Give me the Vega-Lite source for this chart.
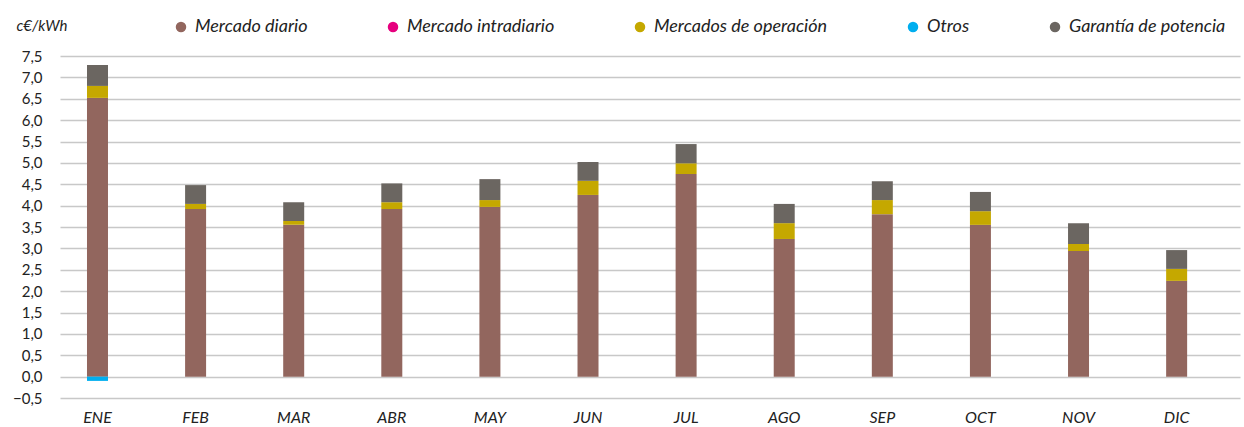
{
  "$schema": "https://vega.github.io/schema/vega-lite/v6.json",
  "autosize": {"type": "none"},
  "padding": {"left": 60, "top": 56, "right": 4, "bottom": 29},
  "width": 1180,
  "height": 342,
  "background": "white",
  "config": {
    "view": {"stroke": null},
    "font": "Lato"
  },
  "data": {
    "values": [
      {"mes": "ENE", "serie": "Mercado diario", "orden": 1, "valor": 6.52},
      {"mes": "ENE", "serie": "Mercado intradiario", "orden": 2, "valor": 0},
      {"mes": "ENE", "serie": "Mercados de operación", "orden": 3, "valor": 0.28},
      {"mes": "ENE", "serie": "Otros", "orden": 4, "valor": -0.10},
      {"mes": "ENE", "serie": "Garantía de potencia", "orden": 5, "valor": 0.49},
      {"mes": "FEB", "serie": "Mercado diario", "orden": 1, "valor": 3.92},
      {"mes": "FEB", "serie": "Mercado intradiario", "orden": 2, "valor": 0},
      {"mes": "FEB", "serie": "Mercados de operación", "orden": 3, "valor": 0.12},
      {"mes": "FEB", "serie": "Otros", "orden": 4, "valor": 0},
      {"mes": "FEB", "serie": "Garantía de potencia", "orden": 5, "valor": 0.44},
      {"mes": "MAR", "serie": "Mercado diario", "orden": 1, "valor": 3.55},
      {"mes": "MAR", "serie": "Mercado intradiario", "orden": 2, "valor": 0},
      {"mes": "MAR", "serie": "Mercados de operación", "orden": 3, "valor": 0.09},
      {"mes": "MAR", "serie": "Otros", "orden": 4, "valor": 0},
      {"mes": "MAR", "serie": "Garantía de potencia", "orden": 5, "valor": 0.44},
      {"mes": "ABR", "serie": "Mercado diario", "orden": 1, "valor": 3.92},
      {"mes": "ABR", "serie": "Mercado intradiario", "orden": 2, "valor": 0},
      {"mes": "ABR", "serie": "Mercados de operación", "orden": 3, "valor": 0.16},
      {"mes": "ABR", "serie": "Otros", "orden": 4, "valor": 0},
      {"mes": "ABR", "serie": "Garantía de potencia", "orden": 5, "valor": 0.44},
      {"mes": "MAY", "serie": "Mercado diario", "orden": 1, "valor": 3.97},
      {"mes": "MAY", "serie": "Mercado intradiario", "orden": 2, "valor": 0},
      {"mes": "MAY", "serie": "Mercados de operación", "orden": 3, "valor": 0.16},
      {"mes": "MAY", "serie": "Otros", "orden": 4, "valor": 0},
      {"mes": "MAY", "serie": "Garantía de potencia", "orden": 5, "valor": 0.49},
      {"mes": "JUN", "serie": "Mercado diario", "orden": 1, "valor": 4.25},
      {"mes": "JUN", "serie": "Mercado intradiario", "orden": 2, "valor": 0},
      {"mes": "JUN", "serie": "Mercados de operación", "orden": 3, "valor": 0.33},
      {"mes": "JUN", "serie": "Otros", "orden": 4, "valor": 0},
      {"mes": "JUN", "serie": "Garantía de potencia", "orden": 5, "valor": 0.44},
      {"mes": "JUL", "serie": "Mercado diario", "orden": 1, "valor": 4.74},
      {"mes": "JUL", "serie": "Mercado intradiario", "orden": 2, "valor": 0},
      {"mes": "JUL", "serie": "Mercados de operación", "orden": 3, "valor": 0.25},
      {"mes": "JUL", "serie": "Otros", "orden": 4, "valor": 0},
      {"mes": "JUL", "serie": "Garantía de potencia", "orden": 5, "valor": 0.45},
      {"mes": "AGO", "serie": "Mercado diario", "orden": 1, "valor": 3.22},
      {"mes": "AGO", "serie": "Mercado intradiario", "orden": 2, "valor": 0},
      {"mes": "AGO", "serie": "Mercados de operación", "orden": 3, "valor": 0.37},
      {"mes": "AGO", "serie": "Otros", "orden": 4, "valor": 0},
      {"mes": "AGO", "serie": "Garantía de potencia", "orden": 5, "valor": 0.45},
      {"mes": "SEP", "serie": "Mercado diario", "orden": 1, "valor": 3.80},
      {"mes": "SEP", "serie": "Mercado intradiario", "orden": 2, "valor": 0},
      {"mes": "SEP", "serie": "Mercados de operación", "orden": 3, "valor": 0.33},
      {"mes": "SEP", "serie": "Otros", "orden": 4, "valor": 0},
      {"mes": "SEP", "serie": "Garantía de potencia", "orden": 5, "valor": 0.44},
      {"mes": "OCT", "serie": "Mercado diario", "orden": 1, "valor": 3.55},
      {"mes": "OCT", "serie": "Mercado intradiario", "orden": 2, "valor": 0},
      {"mes": "OCT", "serie": "Mercados de operación", "orden": 3, "valor": 0.32},
      {"mes": "OCT", "serie": "Otros", "orden": 4, "valor": 0},
      {"mes": "OCT", "serie": "Garantía de potencia", "orden": 5, "valor": 0.45},
      {"mes": "NOV", "serie": "Mercado diario", "orden": 1, "valor": 2.94},
      {"mes": "NOV", "serie": "Mercado intradiario", "orden": 2, "valor": 0},
      {"mes": "NOV", "serie": "Mercados de operación", "orden": 3, "valor": 0.16},
      {"mes": "NOV", "serie": "Otros", "orden": 4, "valor": 0},
      {"mes": "NOV", "serie": "Garantía de potencia", "orden": 5, "valor": 0.49},
      {"mes": "DIC", "serie": "Mercado diario", "orden": 1, "valor": 2.24},
      {"mes": "DIC", "serie": "Mercado intradiario", "orden": 2, "valor": 0},
      {"mes": "DIC", "serie": "Mercados de operación", "orden": 3, "valor": 0.28},
      {"mes": "DIC", "serie": "Otros", "orden": 4, "valor": 0},
      {"mes": "DIC", "serie": "Garantía de potencia", "orden": 5, "valor": 0.44}
    ]
  },
  "mark": {"type": "bar"},
  "encoding": {
    "x": {
      "field": "mes",
      "type": "nominal",
      "sort": ["ENE", "FEB", "MAR", "ABR", "MAY", "JUN", "JUL", "AGO", "SEP", "OCT", "NOV", "DIC"],
      "scale": {"paddingInner": 0.786, "paddingOuter": 0.407, "align": 0.338},
      "axis": {
        "title": null,
        "labelAngle": 0,
        "domain": false,
        "ticks": false,
        "labelPadding": 11,
        "labelDx": 5,
        "labelFontSize": 16,
        "labelFontStyle": "italic",
        "labelColor": "#222222",
        "labelFont": "Lato"
      }
    },
    "y": {
      "field": "valor",
      "type": "quantitative",
      "stack": "zero",
      "scale": {"domain": [-0.5, 7.5], "nice": false, "zero": false},
      "axis": {
        "title": "c€/kWh",
        "titleAngle": 0,
        "titleAlign": "left",
        "titleBaseline": "middle",
        "titleX": -44,
        "titleY": -31,
        "titleFontSize": 15,
        "titleFontStyle": "italic",
        "titleFontWeight": "normal",
        "titleColor": "#222222",
        "titleFont": "Lato",
        "values": [-0.5, 0, 0.5, 1, 1.5, 2, 2.5, 3, 3.5, 4, 4.5, 5, 5.5, 6, 6.5, 7, 7.5],
        "labelExpr": "replace(format(datum.value, '.1f'), '.', ',')",
        "domain": false,
        "ticks": false,
        "labelPadding": 18,
        "labelFontSize": 15,
        "labelColor": "#222222",
        "labelFont": "Lato",
        "grid": true,
        "gridColor": "#c8c8c8",
        "gridWidth": 1.5
      }
    },
    "color": {
      "field": "serie",
      "type": "nominal",
      "sort": ["Mercado diario", "Mercado intradiario", "Mercados de operación", "Otros", "Garantía de potencia"],
      "scale": {
        "domain": ["Mercado diario", "Mercado intradiario", "Mercados de operación", "Otros", "Garantía de potencia"],
        "range": ["#92665e", "#e6007e", "#c5a800", "#00aeef", "#6b6661"]
      },
      "legend": {
        "title": null,
        "orient": "none",
        "direction": "horizontal",
        "legendX": 112,
        "legendY": -38,
        "symbolType": "circle",
        "symbolSize": 110,
        "labelFontSize": 18,
        "labelFontStyle": "italic",
        "labelColor": "#222222",
        "labelFont": "Lato",
        "labelOffset": 5,
        "columnPadding": 76,
        "labelLimit": 300
      }
    },
    "order": {"field": "orden", "type": "quantitative"}
  }
}
